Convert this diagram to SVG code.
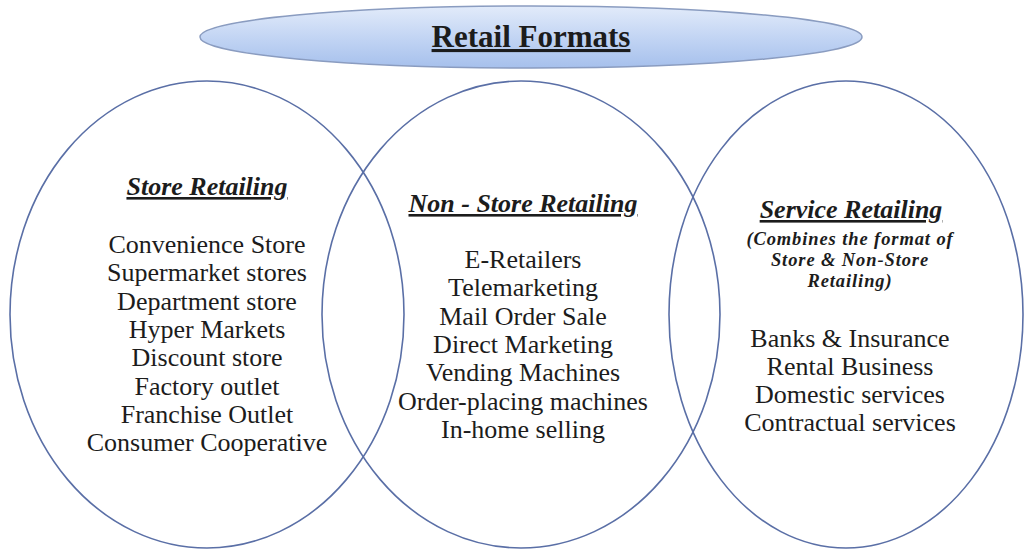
<svg xmlns="http://www.w3.org/2000/svg" width="1026" height="552" viewBox="0 0 1026 552">
  <defs>
    <linearGradient id="titleFill" x1="0" y1="0" x2="0" y2="1">
      <stop offset="0" stop-color="#e2ebfa"/>
      <stop offset="0.55" stop-color="#c0d3f3"/>
      <stop offset="1" stop-color="#a6c0ec"/>
    </linearGradient>
  </defs>
  <style>
    .ring { fill: none; stroke: #5a6fa6; stroke-width: 1.6; }
    .title-shape { fill: url(#titleFill); stroke: #8a9cc0; stroke-width: 1.5; }
    text { font-family: "Liberation Serif", "Times New Roman", serif; fill: #1c1c1c; text-anchor: middle; }
    .title { font-size: 31px; font-weight: bold; text-decoration: underline; }
    .head { font-size: 26px; font-weight: bold; font-style: italic; text-decoration: underline; }
    .note { font-size: 18.5px; font-weight: bold; font-style: italic; letter-spacing: 0.9px; }
    .item { font-size: 26px; }
  </style>
  <rect width="1026" height="552" fill="#ffffff"/>

  <g id="retail-formats">
    <ellipse class="title-shape" cx="531" cy="37" rx="331" ry="31"/>
    <text class="title" x="531" y="47">Retail Formats</text>
  </g>

  <g id="store-retailing">
    <ellipse class="ring" cx="207" cy="314.5" rx="197" ry="233.5"/>
    <text class="head" x="207" y="195">Store Retailing</text>
    <text class="item" x="207" y="253">Convenience Store</text>
    <text class="item" x="207" y="281.3">Supermarket stores</text>
    <text class="item" x="207" y="309.6">Department store</text>
    <text class="item" x="207" y="337.9">Hyper Markets</text>
    <text class="item" x="207" y="366.2">Discount store</text>
    <text class="item" x="207" y="394.5">Factory outlet</text>
    <text class="item" x="207" y="422.8">Franchise Outlet</text>
    <text class="item" x="207" y="451.1">Consumer Cooperative</text>
  </g>

  <g id="non-store-retailing">
    <ellipse class="ring" cx="521" cy="314.5" rx="199" ry="233.5"/>
    <text class="head" x="523" y="212">Non - Store Retailing</text>
    <text class="item" x="523" y="268">E-Retailers</text>
    <text class="item" x="523" y="296.3">Telemarketing</text>
    <text class="item" x="523" y="324.6">Mail Order Sale</text>
    <text class="item" x="523" y="352.9">Direct Marketing</text>
    <text class="item" x="523" y="381.2">Vending Machines</text>
    <text class="item" x="523" y="409.5">Order-placing machines</text>
    <text class="item" x="523" y="437.8">In-home selling</text>
  </g>

  <g id="service-retailing">
    <ellipse class="ring" cx="846" cy="314.5" rx="177" ry="233.5"/>
    <text class="head" x="851" y="218">Service Retailing</text>
    <text class="note" x="850" y="245">(Combines the format of</text>
    <text class="note" x="850" y="266">Store &amp; Non-Store</text>
    <text class="note" x="850" y="287">Retailing)</text>
    <text class="item" x="850" y="347">Banks &amp; Insurance</text>
    <text class="item" x="850" y="375">Rental Business</text>
    <text class="item" x="850" y="403">Domestic services</text>
    <text class="item" x="850" y="431">Contractual services</text>
  </g>

  <g id="connectors"></g>
</svg>
